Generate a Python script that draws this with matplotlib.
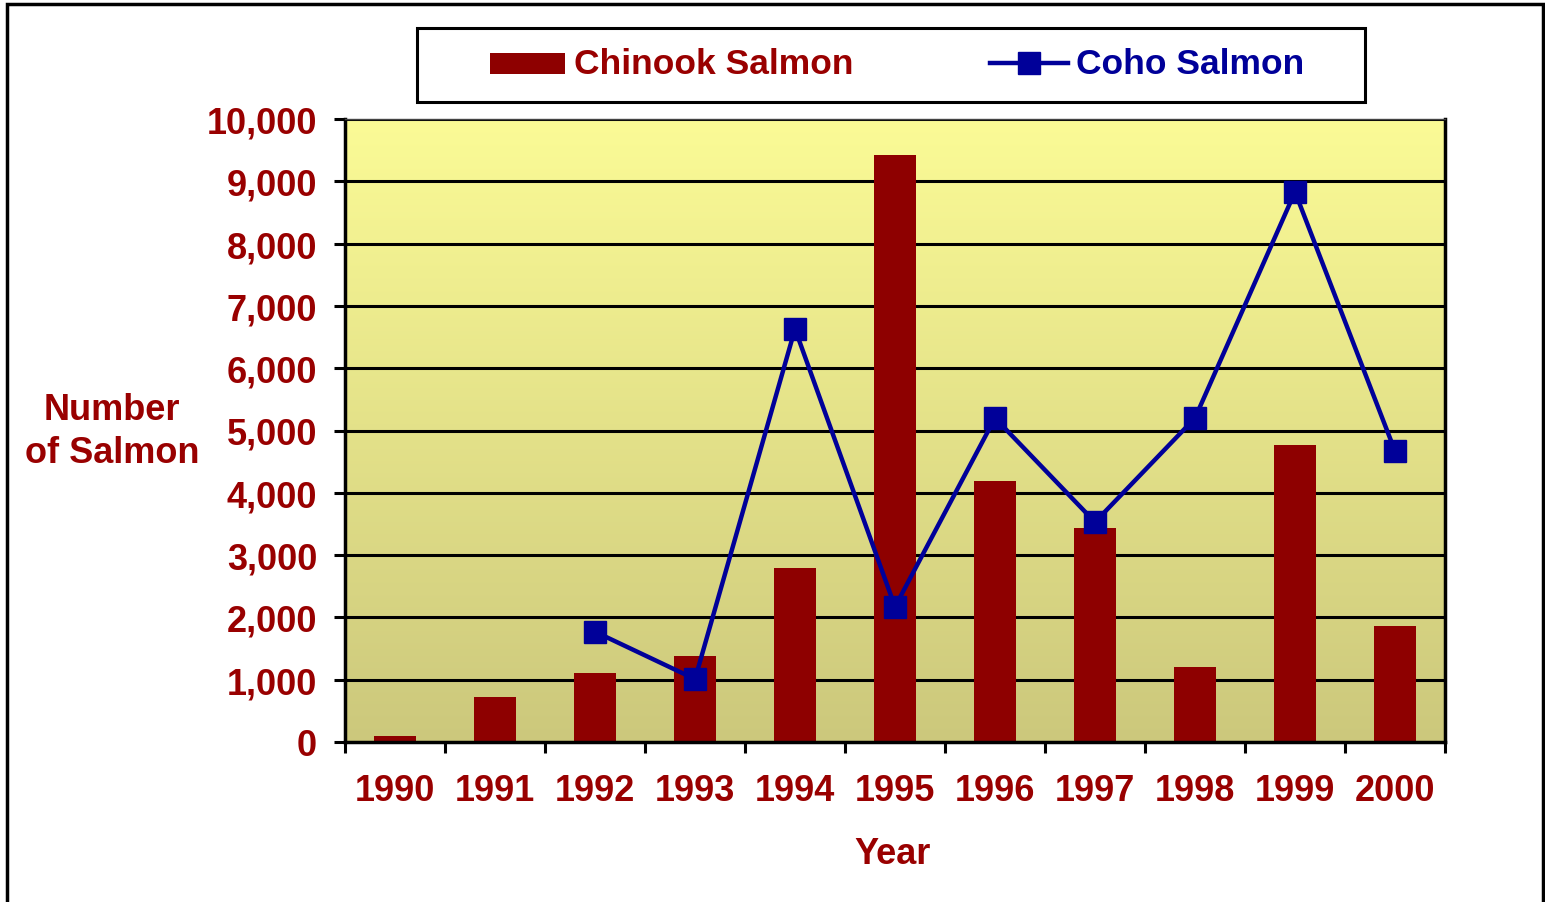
import matplotlib
matplotlib.use("Agg")
import matplotlib.pyplot as plt
import numpy as np
from matplotlib.lines import Line2D
from matplotlib.patches import Rectangle
from matplotlib.ticker import FuncFormatter, FixedLocator

years = ["1990", "1991", "1992", "1993", "1994", "1995", "1996", "1997", "1998", "1999", "2000"]
chinook = [90, 720, 1100, 1380, 2800, 9430, 4190, 3430, 1200, 4770, 1860]
coho = [np.nan, np.nan, 1770, 1010, 6630, 2170, 5200, 3530, 5200, 8830, 4670]

RED = "#8E0000"
TXT = "#990000"
BLUE = "#000099"
FS = 26
LFS = 25.5

plt.rcParams['font.family'] = ['Liberation Sans', 'DejaVu Sans']
plt.rcParams['font.weight'] = 'bold'

W, H = 1545, 903
fig = plt.figure(figsize=(W/100, H/100), dpi=100)
ax = fig.add_axes([345/W, 1-743/H, 1100/W, 623/H])

x = np.arange(len(years))
ax.set_xlim(-0.5, len(years) - 0.5)
ax.set_ylim(0, 10000)

# gradient background
grad = np.linspace(0, 1, 256).reshape(-1, 1)
top = np.array([0xFB, 0xFB, 0x96]) / 255
bot = np.array([0xCC, 0xC8, 0x7C]) / 255
img = top[None, None, :] * (1 - grad[:, :, None]) + bot[None, None, :] * grad[:, :, None]
ax.imshow(img, extent=[-0.5, len(years) - 0.5, 0, 10000], aspect='auto', origin='upper', zorder=0)

ax.yaxis.set_major_locator(FixedLocator(np.arange(0, 10001, 1000)))
for yv in np.arange(1000, 10001, 1000):
    ax.axhline(yv, color='black', lw=2.2, zorder=1)

ax.bar(x, chinook, width=0.42, color=RED, zorder=2)
ax.plot(x, coho, color=BLUE, lw=3.2, marker='s', markersize=16, zorder=3)

ax.yaxis.set_major_formatter(FuncFormatter(lambda v, p: f"{int(v):,}"))
ax.set_xticks(x)
ax.set_xticklabels(years)
ax.set_xticks(np.arange(-0.5, len(years), 1), minor=True)
ax.tick_params(axis='x', which='major', length=0, pad=22, labelsize=FS, labelcolor=TXT)
ax.tick_params(axis='x', which='minor', length=8, width=2.2, direction='out', color='black')
ax.tick_params(axis='y', length=8, width=2.2, direction='out', labelsize=FS, labelcolor=TXT, pad=12)

for s in ['left', 'bottom', 'right']:
    ax.spines[s].set_linewidth(2.5)
    ax.spines[s].set_color('black')
ax.spines['top'].set_linewidth(1)
ax.spines['top'].set_color('#444444')

fig.text(893/W, 1-855/H, "Year", ha='center', va='center', fontsize=FS, color=TXT, fontweight='bold')
fig.text(112/W, 1-432/H, "Number\nof Salmon", ha='center', va='center', fontsize=FS, color=TXT,
         fontweight='bold', linespacing=1.3)

# legend (drawn in figure pixels)
fig.patches.append(Rectangle((417/W, 1-103/H), 948/W, 74/H, transform=fig.transFigure,
                             fill=True, facecolor='white', edgecolor='black', lw=2.2))
fig.patches.append(Rectangle((490/W, 1-75/H), 75/W, 21/H, transform=fig.transFigure,
                             facecolor=RED, edgecolor='none'))
fig.text(574/W, 1-65/H, "Chinook Salmon", ha='left', va='center', fontsize=LFS, color=TXT, fontweight='bold')
fig.lines.append(Line2D([990/W, 1068/W], [1-64/H, 1-64/H], transform=fig.transFigure,
                        color=BLUE, lw=3.2))
fig.lines.append(Line2D([1029/W], [1-64/H], transform=fig.transFigure,
                        color=BLUE, marker='s', markersize=16, lw=0))
fig.text(1076/W, 1-65/H, "Coho Salmon", ha='left', va='center', fontsize=LFS, color=BLUE, fontweight='bold')

# outer border
fig.patches.append(Rectangle((7/W, -0.02), 1536/W, 1 - 5/H + 0.02, transform=fig.transFigure,
                             fill=False, edgecolor='black', lw=2.5))

fig.savefig("out.png", dpi=100)
